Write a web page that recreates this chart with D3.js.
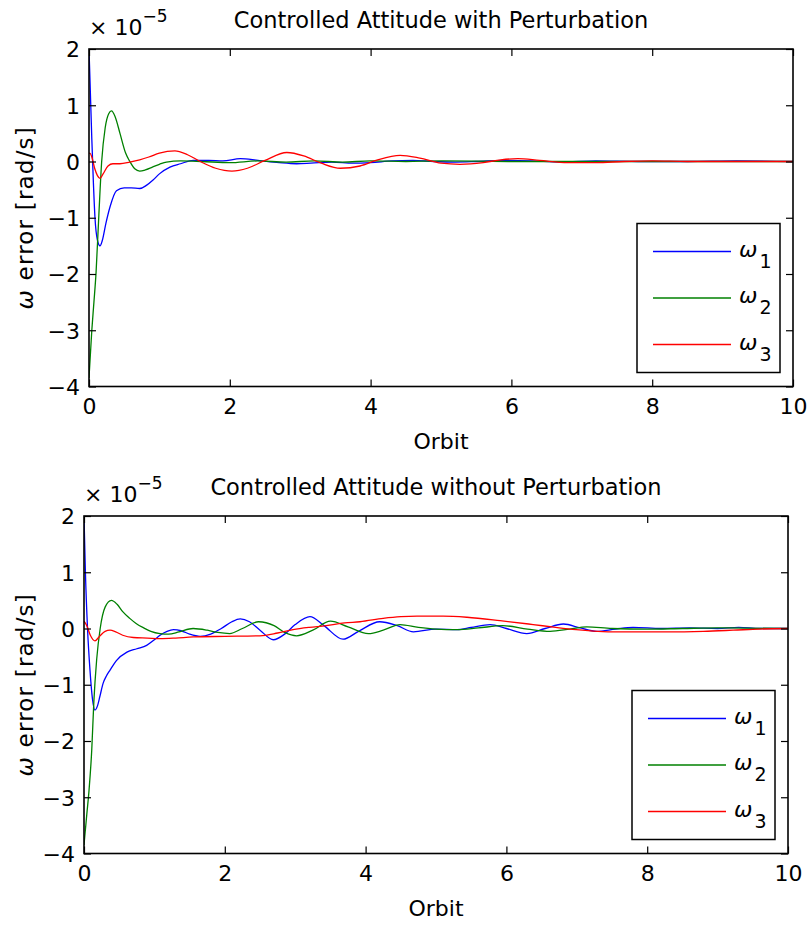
<!DOCTYPE html>
<html>
<head>
<meta charset="utf-8">
<script src="https://cdn.jsdelivr.net/npm/d3@7"></script>
<style>
  body { margin: 0; background: #fff; }
  svg { display: block; }
  text { font-family: "DejaVu Sans", sans-serif; fill: #000; }
</style>
</head>
<body>
<div id="vis"></div>
<script>
// values, in units of 1e-5 rad/s, x in orbits

const seriesNames = ["1", "2", "3"];
const seriesColors = ["#0000ff", "#008000", "#ff0000"];
const xTicks = [0, 2, 4, 6, 8, 10];
const yTicks = [-4, -3, -2, -1, 0, 1, 2];

// --- with perturbation ---
const pertW1Orbit = [0, 0.014, 0.04, 0.06, 0.085, 0.12, 0.156, 0.19, 0.24, 0.3, 0.39, 0.5, 0.6, 0.72, 0.82, 0.91, 1.0, 1.15, 1.3, 1.48, 1.7, 1.9, 2.15, 2.4, 2.7, 2.95, 3.15, 3.45, 3.75, 4.0, 4.3, 4.6, 4.9, 5.2, 5.5, 5.9, 6.3, 6.7, 7.2, 7.8, 8.5, 9.2, 10];
const pertW1 = [2.0, 1.45, 0.4, -0.3, -1.0, -1.4, -1.5, -1.4, -1.1, -0.8, -0.52, -0.47, -0.47, -0.48, -0.42, -0.33, -0.22, -0.1, -0.04, 0.02, 0.02, 0.01, 0.05, 0.02, -0.02, -0.04, -0.03, -0.01, -0.03, -0.02, 0.01, 0.02, 0.0, -0.01, 0.0, 0.02, 0.01, -0.01, 0.01, 0.0, 0.0, 0.01, 0.0];

const pertW2Orbit = [0, 0.04, 0.07, 0.1, 0.14, 0.18, 0.23, 0.28, 0.32, 0.37, 0.44, 0.52, 0.58, 0.65, 0.72, 0.8, 0.9, 1.0, 1.1, 1.3, 1.6, 2.0, 2.4, 2.8, 3.2, 3.6, 4.0, 4.5, 5.0, 6.0, 7.0, 8.0, 10];
const pertW2 = [-3.85, -3.0, -2.5, -1.98, -0.95, 0.0, 0.6, 0.85, 0.9, 0.8, 0.5, 0.15, 0.0, -0.13, -0.17, -0.15, -0.1, -0.05, -0.01, 0.01, 0.0, -0.02, 0.01, -0.01, 0.01, -0.01, 0.01, 0.0, 0.01, 0.0, 0.0, 0.0, 0.0];

const pertW3Orbit = [0, 0.014, 0.04, 0.08, 0.12, 0.156, 0.2, 0.27, 0.34, 0.44, 0.58, 0.72, 0.85, 1.0, 1.22, 1.4, 1.58, 1.8, 2.03, 2.25, 2.5, 2.81, 3.05, 3.3, 3.57, 3.85, 4.1, 4.42, 4.7, 5.0, 5.27, 5.6, 5.85, 6.09, 6.4, 6.8, 7.2, 7.6, 8.0, 8.5, 9.0, 10];
const pertW3 = [0.14, 0.15, 0.08, -0.12, -0.25, -0.3, -0.22, -0.08, -0.04, -0.04, -0.01, 0.03, 0.08, 0.15, 0.19, 0.12, 0.0, -0.12, -0.17, -0.12, 0.02, 0.16, 0.1, -0.03, -0.12, -0.08, 0.03, 0.11, 0.06, -0.03, -0.05, -0.02, 0.03, 0.05, 0.02, -0.02, -0.02, 0.0, 0.01, 0.0, 0.0, 0.0];

// --- without perturbation ---
const freeW1Orbit = [0, 0.02, 0.05, 0.085, 0.12, 0.156, 0.19, 0.227, 0.27, 0.32, 0.37, 0.46, 0.61, 0.75, 0.89, 1.0, 1.08, 1.18, 1.27, 1.38, 1.5, 1.65, 1.8, 1.95, 2.1, 2.22, 2.35, 2.5, 2.69, 2.85, 3.0, 3.21, 3.4, 3.68, 3.9, 4.2, 4.45, 4.68, 5.0, 5.3, 5.5, 5.77, 6.0, 6.29, 6.55, 6.81, 7.05, 7.28, 7.55, 7.8, 8.2, 8.6, 9.0, 9.3, 9.6, 10];
const freeW1 = [2.0, 1.0, 0.0, -0.74, -1.25, -1.45, -1.38, -1.2, -0.98, -0.84, -0.74, -0.57, -0.42, -0.36, -0.3, -0.2, -0.12, -0.05, -0.02, -0.04, -0.1, -0.14, -0.1, 0.0, 0.12, 0.17, 0.12, -0.03, -0.2, -0.1, 0.07, 0.21, 0.06, -0.19, -0.05, 0.12, 0.05, -0.06, -0.01, -0.02, 0.02, 0.07, 0.0, -0.09, 0.0, 0.08, 0.01, -0.05, -0.01, 0.02, 0.0, 0.01, 0.0, 0.02, 0.0, 0.0];

const freeW2Orbit = [0, 0.04, 0.07, 0.11, 0.14, 0.18, 0.23, 0.3, 0.39, 0.47, 0.55, 0.65, 0.74, 0.85, 0.95, 1.08, 1.2, 1.35, 1.55, 1.75, 1.9, 2.07, 2.25, 2.48, 2.7, 2.85, 3.02, 3.25, 3.5, 3.75, 4.04, 4.25, 4.49, 4.75, 5.0, 5.3, 5.6, 5.95, 6.3, 6.62, 6.9, 7.14, 7.5, 8.0, 8.5, 9.0, 10];
const freeW2 = [-3.85, -3.3, -2.9, -2.16, -1.3, -0.55, 0.0, 0.38, 0.5, 0.43, 0.3, 0.18, 0.09, 0.01, -0.05, -0.09, -0.1, -0.06, 0.0, -0.03, -0.07, -0.09, 0.0, 0.12, 0.05, -0.07, -0.13, -0.03, 0.13, 0.03, -0.09, -0.03, 0.07, 0.02, -0.01, -0.02, 0.01, 0.05, -0.01, -0.05, -0.01, 0.03, 0.0, -0.01, 0.0, 0.01, 0.0];

const freeW3Orbit = [0, 0.04, 0.09, 0.156, 0.22, 0.3, 0.37, 0.45, 0.55, 0.7, 0.9, 1.08, 1.3, 1.55, 2.0, 2.5, 2.75, 2.97, 3.2, 3.44, 3.7, 3.92, 4.25, 4.5, 4.73, 5.1, 5.44, 5.91, 6.38, 6.7, 6.99, 7.3, 7.57, 8.28, 8.8, 9.22, 9.6, 10];
const freeW3 = [0.13, 0.05, -0.12, -0.22, -0.14, -0.05, -0.03, -0.06, -0.12, -0.16, -0.17, -0.18, -0.17, -0.15, -0.14, -0.13, -0.08, -0.02, 0.02, 0.05, 0.1, 0.12, 0.18, 0.21, 0.22, 0.22, 0.2, 0.14, 0.07, 0.02, -0.02, -0.05, -0.06, -0.06, -0.05, -0.03, -0.01, 0.0];

const panels = [
  { title: "Controlled Attitude with Perturbation", left: 89, top: 49,
    xs: [pertW1Orbit, pertW2Orbit, pertW3Orbit], ys: [pertW1, pertW2, pertW3] },
  { title: "Controlled Attitude without Perturbation", left: 84, top: 516,
    xs: [freeW1Orbit, freeW2Orbit, freeW3Orbit], ys: [freeW1, freeW2, freeW3] }
];

const W = 811, H = 927;
const pw = 704, ph = 337.5;
const tickLen = 7;

const svg = d3.select("#vis").append("svg")
  .attr("width", W)
  .attr("height", H);

panels.forEach(p => {
  const g = svg.append("g").attr("transform", `translate(${p.left},${p.top})`);

  const x = d3.scaleLinear().domain([0, 10]).range([0, pw]);
  const y = d3.scaleLinear().domain([-4, 2]).range([ph, 0]);

  g.append("defs").append("clipPath").attr("id", "clip" + p.top)
    .append("rect").attr("width", pw).attr("height", ph);

  // data lines
  const line = d3.line()
    .x(d => x(d[0]))
    .y(d => y(d[1]))
    .curve(d3.curveMonotoneX);

  const lines = g.append("g").attr("clip-path", `url(#clip${p.top})`);
  p.ys.forEach((vals, i) => {
    const pts = vals.map((v, j) => [p.xs[i][j], v]);
    lines.append("path")
      .datum(pts)
      .attr("d", line)
      .attr("fill", "none")
      .attr("stroke", seriesColors[i])
      .attr("stroke-width", 1.3);
  });

  // axes: ticks on all four sides, pointing inward
  const fmt = d3.format("d");
  const bottom = d3.axisBottom(x).tickValues(xTicks).tickFormat(fmt).tickSizeInner(-tickLen).tickSizeOuter(0).tickPadding(12);
  const top = d3.axisTop(x).tickValues(xTicks).tickSizeInner(-tickLen).tickSizeOuter(0).tickFormat("");
  const left = d3.axisLeft(y).tickValues(yTicks).tickFormat(fmt).tickSizeInner(-tickLen).tickSizeOuter(0).tickPadding(9);
  const right = d3.axisRight(y).tickValues(yTicks).tickSizeInner(-tickLen).tickSizeOuter(0).tickFormat("");

  const gb = g.append("g").attr("transform", `translate(0,${ph})`).call(bottom);
  g.append("g").call(top);
  const gl = g.append("g").call(left);
  g.append("g").attr("transform", `translate(${pw},0)`).call(right);

  g.selectAll(".domain").remove();
  g.selectAll(".tick line").attr("stroke", "#000").attr("stroke-width", 1.2);
  g.selectAll(".tick text").style("font-size", "22px").attr("fill", "#000");
  gb.selectAll(".tick text").attr("dy", "0.71em");
  gl.selectAll(".tick text").attr("dy", "0.36em");

  g.append("rect")
    .attr("width", pw).attr("height", ph)
    .attr("fill", "none").attr("stroke", "#000").attr("stroke-width", 1.6);

  // title
  g.append("text")
    .attr("x", pw / 2).attr("y", -21)
    .attr("text-anchor", "middle")
    .style("font-size", "22.5px")
    .text(p.title);

  // exponent
  const ex = g.append("text").attr("x", 0).attr("y", -14).style("font-size", "22px");
  ex.append("tspan").text("× 10");
  ex.append("tspan").attr("dy", -13).style("font-size", "17px").text("−5");

  // x label
  g.append("text")
    .attr("x", pw / 2).attr("y", ph + 62)
    .attr("text-anchor", "middle")
    .style("font-size", "22px")
    .text("Orbit");

  // y label
  const yl = g.append("text")
    .attr("transform", `translate(${33 - p.left},${ph / 2}) rotate(-90)`)
    .attr("text-anchor", "middle")
    .style("font-size", "23px")
    .style("letter-spacing", "1.2px");
  yl.append("tspan").style("font-style", "italic").text("ω");
  yl.append("tspan").text(" error [rad/s]");

  // legend
  const lw = 143, lh = 149;
  const lg = g.append("g").attr("transform", `translate(${pw - 13 - lw},${ph - 14 - lh})`);
  lg.append("rect").attr("width", lw).attr("height", lh)
    .attr("fill", "#fff").attr("stroke", "#000").attr("stroke-width", 1.5);
  seriesNames.forEach((n, i) => {
    const ry = 28 + i * 46.5;
    lg.append("line")
      .attr("x1", 16).attr("x2", 94).attr("y1", ry).attr("y2", ry)
      .attr("stroke", seriesColors[i]).attr("stroke-width", 1.3);
    const t = lg.append("text").attr("x", 102).attr("y", ry + 5).style("font-size", "22px");
    t.append("tspan").style("font-style", "italic").text("ω");
    t.append("tspan").attr("dx", 2).attr("dy", 11).style("font-size", "19px").text(n);
  });
});
</script>
</body>
</html>
